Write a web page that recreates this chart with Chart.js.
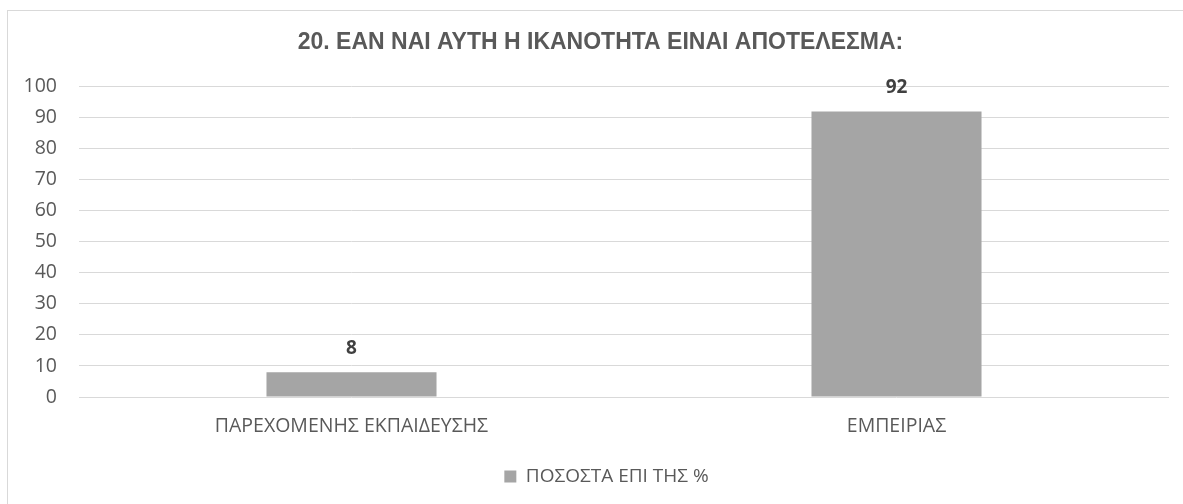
<!DOCTYPE html>
<html>
<head>
<meta charset="utf-8">
<script src="https://cdn.jsdelivr.net/npm/chart.js@4.4.1/dist/chart.umd.min.js"></script>
<style>
  html, body { margin: 0; padding: 0; background: #fff; }
  #wrap { width: 1183px; height: 504px; position: relative; }
</style>
</head>
<body>
<div id="wrap"><canvas id="barChart" width="1183" height="504"></canvas></div>
<script>
const categories = ["ΠΑΡΕΧΟΜΕΝΗΣ ΕΚΠΑΙΔΕΥΣΗΣ", "ΕΜΠΕΙΡΙΑΣ"];
const values = [8, 92];
const seriesName = "ΠΟΣΟΣΤΑ ΕΠΙ ΤΗΣ %";
const titleText = "20. ΕΑΝ ΝΑΙ ΑΥΤΗ Η ΙΚΑΝΟΤΗΤΑ ΕΙΝΑΙ ΑΠΟΤΕΛΕΣΜΑ:";

const axisFont = "'Open Sans', 'Noto Sans', sans-serif";

// frame around the chart (left and top edges are visible)
const framePlugin = {
    id: "frame",
    beforeDraw(chart) {
        const ctx = chart.ctx;
        ctx.save();
        ctx.fillStyle = "#fff";
        ctx.fillRect(0, 0, chart.width, chart.height);
        ctx.strokeStyle = "#d9d9d9";
        ctx.lineWidth = 1;
        ctx.strokeRect(7.5, 10.5, chart.width + 20, chart.height + 20);
        ctx.restore();
    }
};

// title and legend sit a bit right of the canvas centre
const centreShift = {
    id: "centreShift",
    afterLayout(chart) {
        chart.titleBlock.left += 16;
        chart.titleBlock.right += 16;
        chart.legend.left += 22;
        chart.legend.right += 22;
    }
};

// value labels above each bar
const valueLabels = {
    id: "valueLabels",
    afterDatasetsDraw(chart) {
        const ctx = chart.ctx;
        const meta = chart.getDatasetMeta(0);
        ctx.save();
        ctx.font = "bold 19px " + axisFont;
        ctx.fillStyle = "#404040";
        ctx.textAlign = "center";
        ctx.textBaseline = "middle";
        meta.data.forEach((bar, i) => {
            ctx.fillText(String(values[i]), bar.x, bar.y - 24);
        });
        ctx.restore();
    }
};

new Chart(document.getElementById("barChart"), {
    type: "bar",
    data: {
        labels: categories,
        datasets: [{
            label: seriesName,
            data: values,
            backgroundColor: "#a5a5a5",
            borderWidth: 0,
            categoryPercentage: 1,
            barPercentage: 0.312
        }]
    },
    options: {
        responsive: false,
        animation: false,
        layout: { padding: { left: 0, right: 14, top: 0, bottom: 8 } },
        plugins: {
            tooltip: { enabled: false },
            title: {
                display: true,
                text: titleText,
                color: "#595959",
                font: { family: "'Liberation Sans', Arial, sans-serif", size: 23, weight: "bold" },
                padding: { top: 29, bottom: 30 }
            },
            legend: {
                position: "bottom",
                labels: {
                    color: "#595959",
                    font: { family: axisFont, size: 19 },
                    boxWidth: 12,
                    boxHeight: 12,
                    padding: 10
                }
            }
        },
        scales: {
            x: {
                grid: { display: false, drawTicks: false },
                border: { display: false },
                ticks: {
                    color: "#595959",
                    font: { family: axisFont, size: 19.5 },
                    padding: 18,
                    maxRotation: 0
                },
                afterFit(scale) { scale.height = 60; }
            },
            y: {
                min: 0,
                max: 100,
                grid: { color: "#d9d9d9", drawTicks: false },
                border: { display: false },
                ticks: {
                    stepSize: 10,
                    color: "#595959",
                    font: { family: axisFont, size: 19.5 },
                    padding: 22
                },
                afterFit(scale) { scale.width = 79; }
            }
        }
    },
    plugins: [framePlugin, centreShift, valueLabels]
});
</script>
</body>
</html>
